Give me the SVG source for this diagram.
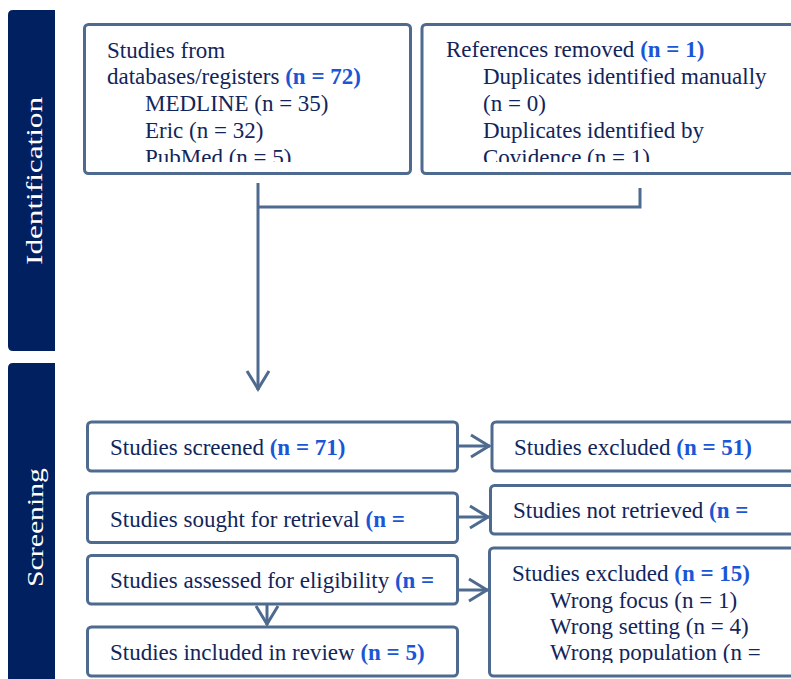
<svg xmlns="http://www.w3.org/2000/svg" width="791" height="679" viewBox="0 0 791 679">
<style>
.box{fill:#fff;stroke:#4f6a8f;stroke-width:3}
.bar{fill:#002060}
.lbl{font-family:"Liberation Serif","Times New Roman",serif;font-size:24px;fill:#fff}
.t{font-family:"Liberation Serif","Times New Roman",serif;font-size:23px;fill:#12255a}
.n{font-weight:bold;fill:#1a56d6}
.con{fill:none;stroke:#4f6a8f;stroke-width:3}
</style>
<defs>
<marker id="arr" markerUnits="userSpaceOnUse" markerWidth="30" markerHeight="30" viewBox="-25 -15 30 30" refX="0" refY="0" orient="auto" overflow="visible">
<path d="M-19,-11 L-1,0 L-19,11" fill="none" stroke="#4f6a8f" stroke-width="3"/>
</marker>
<clipPath id="c1"><rect x="86" y="26" width="323" height="136"/></clipPath>
<clipPath id="c2"><rect x="424" y="26" width="370" height="136"/></clipPath>
<clipPath id="c3"><rect x="491" y="550" width="300" height="113"/></clipPath>
</defs>
<g id="bar-identification">
<path class="bar" d="M13,10 H55 V351 H13 Q8,351 8,346 V15 Q8,10 13,10 Z"/>
<text class="lbl" transform="translate(42,181) rotate(-90)" text-anchor="middle" textLength="168" lengthAdjust="spacingAndGlyphs">Identification</text>
</g>
<g id="bar-screening">
<path class="bar" d="M13,363 H55 V690 H8 V368 Q8,363 13,363 Z"/>
<text class="lbl" transform="translate(43,527.5) rotate(-90)" text-anchor="middle" textLength="119" lengthAdjust="spacingAndGlyphs">Screening</text>
</g>
<g id="connectors">
<path class="con" d="M258,183 V390" marker-end="url(#arr)"/>
<path class="con" d="M258,207 H640 V188"/>
<path class="con" d="M457,446 H490" marker-end="url(#arr)"/>
<path class="con" d="M457,517 H489" marker-end="url(#arr)"/>
<path class="con" d="M457,590 H488" marker-end="url(#arr)"/>
<path class="con" d="M267,604 V625" marker-end="url(#arr)"/>
</g>
<g id="n-databases">
<rect class="box" x="84.5" y="24.5" width="326" height="149" rx="4"/>
<g clip-path="url(#c1)">
<text class="t" x="107" y="58">Studies from</text>
<text class="t" x="107" y="84">databases/registers <tspan class="n">(n = 72)</tspan></text>
<text class="t" x="145" y="111">MEDLINE (n = 35)</text>
<text class="t" x="145" y="138">Eric (n = 32)</text>
<text class="t" x="145" y="165">PubMed (n = 5)</text>
</g>
</g>
<g id="n-removed">
<rect class="box" x="422" y="24.5" width="380" height="149" rx="4"/>
<g clip-path="url(#c2)">
<text class="t" x="446" y="57">References removed <tspan class="n">(n = 1)</tspan></text>
<text class="t" x="483" y="84">Duplicates identified manually</text>
<text class="t" x="483" y="111">(n = 0)</text>
<text class="t" x="483" y="138">Duplicates identified by</text>
<text class="t" x="483" y="165">Covidence (n = 1)</text>
</g>
</g>
<g id="n-screened">
<rect class="box" x="87.5" y="422" width="370" height="49" rx="4"/>
<text class="t" x="110" y="455">Studies screened <tspan class="n">(n = 71)</tspan></text>
</g>
<g id="n-sought">
<rect class="box" x="87.5" y="493" width="370" height="49.5" rx="4"/>
<text class="t" x="110" y="527">Studies sought for retrieval <tspan class="n">(n =</tspan></text>
</g>
<g id="n-assessed">
<rect class="box" x="87.5" y="555.5" width="370" height="48.5" rx="4"/>
<text class="t" x="110" y="588">Studies assessed for eligibility <tspan class="n">(n =</tspan></text>
</g>
<g id="n-included">
<rect class="box" x="87.5" y="627" width="370" height="49" rx="4"/>
<text class="t" x="110" y="660">Studies included in review <tspan class="n">(n = 5)</tspan></text>
</g>
<g id="n-excluded1">
<rect class="box" x="492" y="422" width="310" height="49" rx="4"/>
<text class="t" x="514" y="455">Studies excluded <tspan class="n">(n = 51)</tspan></text>
</g>
<g id="n-notretrieved">
<rect class="box" x="490.5" y="485.5" width="310" height="48.5" rx="4"/>
<text class="t" x="513" y="518">Studies not retrieved <tspan class="n">(n =</tspan></text>
</g>
<g id="n-excluded2">
<rect class="box" x="489.5" y="548" width="310" height="128" rx="4"/>
<g clip-path="url(#c3)">
<text class="t" x="512" y="581">Studies excluded <tspan class="n">(n = 15)</tspan></text>
<text class="t" x="550" y="608">Wrong focus (n = 1)</text>
<text class="t" x="550" y="634">Wrong setting (n = 4)</text>
<text class="t" x="550" y="660">Wrong population (n =</text>
</g>
</g>
</svg>
